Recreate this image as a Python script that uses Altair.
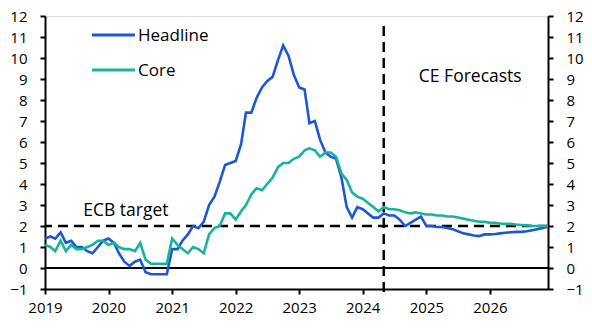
import altair as alt
import pandas as pd

# ---------------- data ----------------
months = pd.date_range("2019-01-01", "2026-12-01", freq="MS")

headline = [
    1.4, 1.5, 1.4, 1.7, 1.2, 1.3, 1.0, 1.0, 0.8, 0.7, 1.0, 1.3,      # 2019
    1.4, 1.2, 0.7, 0.3, 0.1, 0.3, 0.4, -0.2, -0.3, -0.3, -0.3, -0.3,  # 2020
    0.9, 0.9, 1.3, 1.6, 2.0, 1.9, 2.2, 3.0, 3.4, 4.1, 4.9, 5.0,      # 2021
    5.1, 5.9, 7.4, 7.4, 8.1, 8.6, 8.9, 9.1, 9.9, 10.6, 10.1, 9.2,    # 2022
    8.6, 8.5, 6.9, 7.0, 6.1, 5.5, 5.3, 5.2, 4.3, 2.9, 2.4, 2.9,      # 2023
    2.8, 2.6, 2.4, 2.4, 2.6, 2.5, 2.5, 2.3, 2.0, 2.15, 2.3, 2.45,    # 2024
    2.0, 2.0, 1.95, 1.95, 1.9, 1.85, 1.75, 1.65, 1.6, 1.55, 1.52, 1.6,  # 2025
    1.6, 1.62, 1.65, 1.68, 1.7, 1.72, 1.72, 1.75, 1.8, 1.85, 1.9, 1.97,  # 2026
]
core = [
    1.1, 1.0, 0.8, 1.3, 0.8, 1.1, 0.9, 0.9, 1.0, 1.1, 1.3, 1.3,      # 2019
    1.1, 1.2, 1.0, 0.9, 0.9, 0.8, 1.2, 0.4, 0.2, 0.2, 0.2, 0.2,      # 2020
    1.4, 1.1, 0.9, 0.7, 1.0, 0.9, 0.7, 1.6, 1.9, 2.0, 2.6, 2.6,      # 2021
    2.3, 2.7, 3.0, 3.5, 3.8, 3.7, 4.0, 4.3, 4.8, 5.0, 5.0, 5.2,      # 2022
    5.3, 5.6, 5.7, 5.6, 5.3, 5.5, 5.5, 5.3, 4.5, 4.2, 3.6, 3.4,      # 2023
    3.3, 3.1, 2.9, 2.7, 2.9, 2.8, 2.8, 2.75, 2.65, 2.6, 2.65, 2.6,   # 2024
    2.55, 2.55, 2.5, 2.5, 2.45, 2.45, 2.4, 2.35, 2.3, 2.25, 2.2, 2.2,  # 2025
    2.15, 2.15, 2.12, 2.1, 2.1, 2.07, 2.05, 2.03, 2.0, 2.0, 2.0, 2.0,  # 2026
]
series_names = ["Headline", "Core"]
series_colors = ["#1f56d4", "#17b39c"]
y_ticks = list(range(-1, 13))
years = list(range(2019, 2027))
ecb_target = 2
forecast_start = alt.DateTime(year=2024, month=5, date=1)

df = pd.DataFrame({
    "date": list(months) * 2,
    "value": headline + core,
    "series": ["Headline"] * len(months) + ["Core"] * len(months),
})

FONT = "Open Sans"
W, H = 503, 273

xscale = alt.Scale(domain=[alt.DateTime(year=2019, month=1, date=1),
                           alt.DateTime(year=2026, month=12, date=1)], nice=False)
def yscale():
    return alt.Scale(domain=[-1, 12], nice=False, zero=False)

common_axis = dict(tickSize=5, tickWidth=2, tickColor="black", domainColor="black",
                   domainWidth=2, labelColor="black", labelFont=FONT, labelFontSize=15,
                   grid=False, title=None, labelOverlap=False, labelFlush=False)

x_axis = alt.Axis(values=[alt.DateTime(year=y, month=1, date=1) for y in years],
                  format="%Y", labelPadding=6, **common_axis)

lines = alt.Chart(df).mark_line(strokeWidth=2.6).encode(
    x=alt.X("date:T", scale=xscale, axis=x_axis),
    y=alt.Y("value:Q", scale=yscale(),
            axis=alt.Axis(values=y_ticks, orient="left", labelPadding=13, **common_axis)),
    color=alt.Color("series:N", scale=alt.Scale(domain=series_names, range=series_colors),
                    legend=None),
)

zero_rule = alt.Chart().mark_rule(color="black", strokeWidth=2).encode(
    y=alt.Y(datum=0, type="quantitative", scale=yscale(),
            axis=alt.Axis(values=y_ticks, orient="right", labelPadding=13, **common_axis)),
)

ecb_rule = alt.Chart().mark_rule(color="black", strokeWidth=2.5, strokeDash=[10, 6]).encode(
    y=alt.Y(datum=ecb_target, type="quantitative", scale=yscale(), axis=None),
)

fc_rule = alt.Chart().mark_rule(color="black", strokeWidth=2.5, strokeDash=[10, 6]).encode(
    x=alt.X(datum=forecast_start, type="temporal", scale=xscale, axis=x_axis),
    y=alt.value(10), y2=alt.value(278),
)

ann_df = pd.DataFrame({
    "date": [pd.Timestamp("2020-04-10"), pd.Timestamp("2025-09-10")],
    "value": [2.72, 9.1],
    "label": ["ECB target", "CE Forecasts"],
})
ann = alt.Chart(ann_df).mark_text(font=FONT, fontSize=17.5, color="black",
                                  align="center", baseline="middle").encode(
    x=alt.X("date:T", scale=xscale, axis=x_axis),
    y=alt.Y("value:Q", scale=yscale(), axis=None),
    text="label:N",
)

legend_layers = []
for i, (name, col) in enumerate(zip(series_names, series_colors)):
    ly = 19 + 35 * i
    legend_layers.append(
        alt.Chart().mark_rule(color=col, strokeWidth=2.8).encode(
            x=alt.value(47), x2=alt.value(90), y=alt.value(ly)))
    legend_layers.append(
        alt.Chart().mark_text(font=FONT, fontSize=17, color="black", align="left",
                              baseline="middle", text=name).encode(
            x=alt.value(93), y=alt.value(ly + 1)))

chart = alt.layer(
    zero_rule, ecb_rule, fc_rule, lines, ann, *legend_layers
).resolve_scale(y="independent").properties(
    width=W, height=H,
    autosize=alt.AutoSizeParams(type="none"),
    padding={"left": 45, "top": 16, "right": 44, "bottom": 39},
).configure_view(stroke=None).configure(background="white")

chart.save("out.html", embed_options={"renderer": "svg", "actions": False})
